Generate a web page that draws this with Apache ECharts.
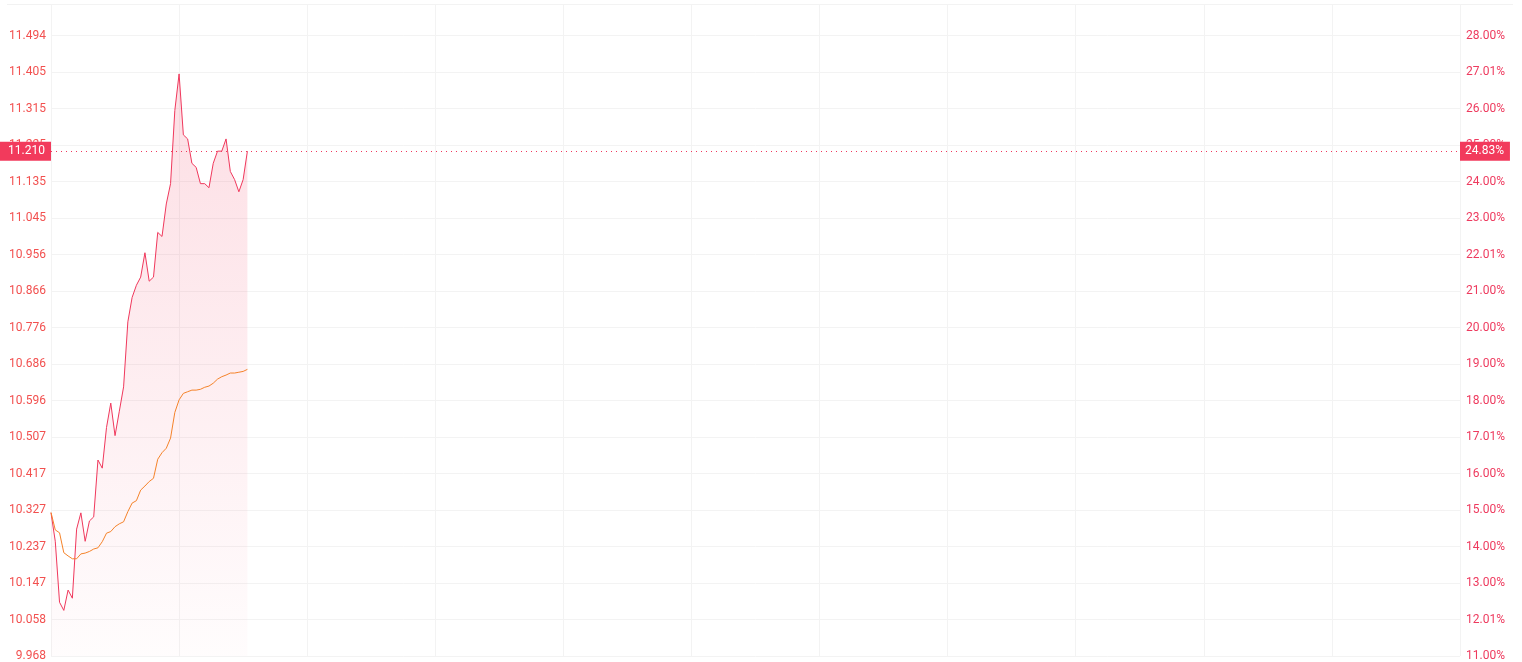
<!DOCTYPE html>
<html>
<head>
<meta charset="utf-8">
<script src="https://cdn.jsdelivr.net/npm/echarts@6/dist/echarts.min.js"></script>
<style>
html,body{margin:0;padding:0;background:#fff;}
#chart{width:1522px;height:662px;}
</style>
</head>
<body>
<div id="chart"></div>
<script>
// ---- data ----
var priceValues = [10.32, 10.25, 10.10, 10.08, 10.13, 10.11, 10.28, 10.32, 10.25, 10.30,
  10.31, 10.45, 10.43, 10.53, 10.59, 10.51, 10.57, 10.63, 10.79, 10.85,
  10.88, 10.90, 10.96, 10.89, 10.90, 11.01, 11.00, 11.08, 11.13, 11.31,
  11.40, 11.25, 11.24, 11.18, 11.17, 11.13, 11.13, 11.12, 11.18, 11.21,
  11.21, 11.24, 11.16, 11.14, 11.11, 11.14, 11.21];
var avgValues = [10.321, 10.278, 10.271, 10.222, 10.214, 10.207, 10.207, 10.219, 10.221, 10.225,
  10.231, 10.234, 10.249, 10.270, 10.274, 10.286, 10.293, 10.298, 10.323, 10.344,
  10.350, 10.376, 10.386, 10.397, 10.405, 10.452, 10.468, 10.479, 10.504, 10.567,
  10.598, 10.614, 10.618, 10.622, 10.622, 10.624, 10.629, 10.632, 10.639, 10.649,
  10.655, 10.659, 10.664, 10.664, 10.666, 10.668, 10.673];
var leftTickLabels = ['9.968','10.058','10.147','10.237','10.327','10.417','10.507','10.596','10.686',
  '10.776','10.866','10.956','11.045','11.135','11.225','11.315','11.405','11.494'];
var rightTickLabels = ['11.00%','12.01%','13.00%','14.00%','15.00%','16.00%','17.01%','18.00%','19.00%',
  '20.00%','21.00%','22.01%','23.00%','24.00%','25.00%','26.00%','27.01%','28.00%'];
var lastPrice = 11.21;
var lastPriceLabel = '11.210';
var lastPctLabel = '24.83%';

// time categories 09:30 .. 15:00, one per minute
var timeCategories = [];
for (var m = 9 * 60 + 30; m <= 15 * 60; m++) {
  var h = Math.floor(m / 60), mm = m % 60;
  timeCategories.push((h < 10 ? '0' : '') + h + ':' + (mm < 10 ? '0' : '') + mm);
}

var yMin = 9.9678, yStep = 0.0898, yMax = 11.572;
function tickIndex(v) { return Math.round((v - yMin) / yStep); }

var chart = echarts.init(document.getElementById('chart'));
var font = 'Roboto, "Noto Sans", sans-serif';
chart.setOption({
  animation: false,
  backgroundColor: '#ffffff',
  grid: { left: 51, right: 62, top: 4, bottom: 6, containLabel: false },
  graphic: [{
    type: 'line', silent: true,
    shape: { x1: 7, y1: 4.5, x2: 1513, y2: 4.5 },
    style: { stroke: '#f2f2f2', lineWidth: 1 }
  }],
  xAxis: {
    type: 'category',
    data: timeCategories,
    boundaryGap: false,
    axisLine: { show: false },
    axisTick: { show: false },
    axisLabel: { show: false },
    splitLine: {
      show: true,
      interval: function (idx) { return idx % 30 === 0; },
      lineStyle: { color: '#f3f3f3', width: 1 }
    }
  },
  yAxis: [{
    type: 'value',
    position: 'left',
    min: yMin, max: yMax, interval: yStep,
    axisLine: { show: false },
    axisTick: { show: false },
    splitLine: { show: true, lineStyle: { color: '#f3f3f3', width: 1 } },
    axisLabel: {
      margin: 5,
      padding: [3, 0, 0, 0],
      color: '#f2504f',
      fontSize: 12,
      fontFamily: font,
      showMaxLabel: false,
      formatter: function (v) { return leftTickLabels[tickIndex(v)] || ''; }
    }
  }, {
    type: 'value',
    position: 'right',
    min: yMin, max: yMax, interval: yStep,
    axisLine: { show: false },
    axisTick: { show: false },
    splitLine: { show: false },
    axisLabel: {
      margin: 6,
      padding: [3, 0, 0, 0],
      color: '#ee3a5e',
      fontSize: 12,
      fontFamily: font,
      showMaxLabel: false,
      formatter: function (v) { return rightTickLabels[tickIndex(v)] || ''; }
    }
  }],
  series: [{
    name: '价格',
    type: 'line',
    data: priceValues,
    showSymbol: false,
    symbol: 'none',
    lineStyle: { color: '#f0385c', width: 1 },
    itemStyle: { color: '#f0385c' },
    areaStyle: {
      origin: 'start',
      color: new echarts.graphic.LinearGradient(0, 0, 0, 1, [
        { offset: 0, color: 'rgba(242,56,92,0.24)' },
        { offset: 1, color: 'rgba(242,56,92,0.02)' }
      ])
    },
    z: 3,
    markLine: {
      silent: true,
      symbol: 'none',
      animation: false,
      lineStyle: { color: '#f0385c', type: [1, 4], width: 1 },
      label: {
        color: '#ffffff',
        backgroundColor: '#f23a5c',
        fontSize: 12,
        fontFamily: font,
        lineHeight: 14,
        padding: [3, 6, 2, 5],
        distance: 0
      },
      data: [
        { yAxis: lastPrice, label: { position: 'start', formatter: lastPriceLabel, padding: [3, 6, 2, 9] } },
        { yAxis: lastPrice, label: { position: 'end', formatter: lastPctLabel } }
      ]
    }
  }, {
    name: '均价',
    type: 'line',
    data: avgValues,
    showSymbol: false,
    symbol: 'none',
    lineStyle: { color: '#f5832a', width: 1 },
    itemStyle: { color: '#f5832a' },
    z: 4
  }]
});
</script>
</body>
</html>
